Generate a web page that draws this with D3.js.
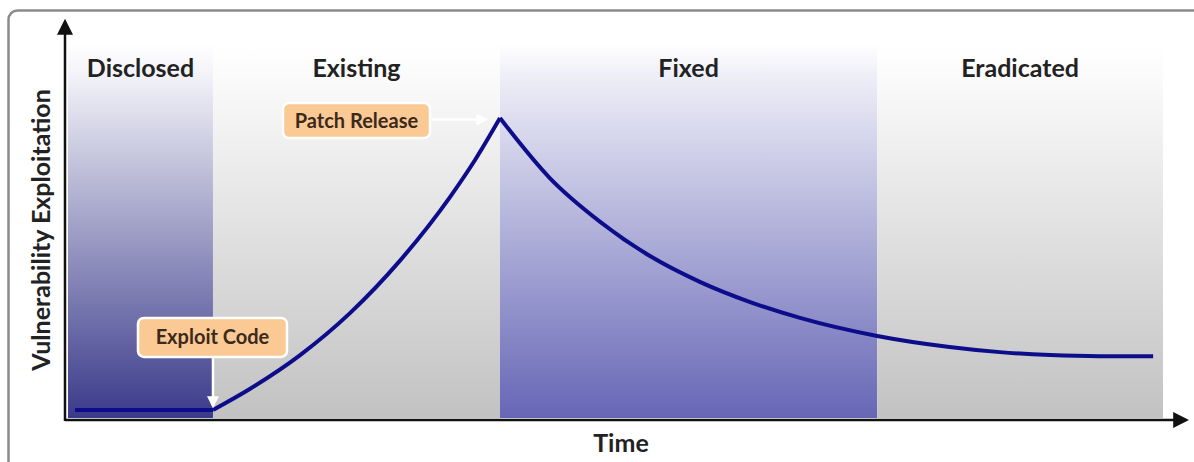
<!DOCTYPE html>
<html lang="en">
<head>
  <title>Vulnerability Lifecycle</title>
  <script src="https://cdn.jsdelivr.net/npm/d3@7"></script>
  <style>
    body { margin: 0; background: #fff; }
    text { font-family: Lato, "Open Sans", sans-serif; font-weight: bold; }
  </style>
</head>
<body>
  <script>
    // phases of the lifecycle (time units 0..100)
    let phases = ["Disclosed", "Existing", "Fixed", "Eradicated"];
    let phaseStart = [0, 13.24, 39.45, 73.9];
    let phaseEnd = [13.24, 39.45, 73.9, 100];
    let phaseTop = ["#f3f3f9", "#fbfbfb", "#efeff8", "#fbfbfb"];
    let phaseBottom = ["#3a3a8a", "#c2c2c2", "#6666b6", "#c2c2c2"];

    // exploitation curve
    let flatT = [0.64, 13.24];
    let flatV = [2.2, 2.2];
    let riseT = [13.24, 16.6, 21.2, 25.75, 30.3, 34.9, 37.17, 39.45];
    let riseV = [2.2, 7.9, 17.1, 28.5, 42.7, 60.1, 70.1, 81.5];
    let fallT = [39.45, 44.0, 48.6, 53.15, 57.7, 62.3, 66.85, 73.9, 80.5, 85.1, 89.7, 94.2, 99.1];
    let fallV = [81.5, 65.2, 53.3, 44.0, 37.0, 31.5, 27.2, 22.3, 19.3, 17.9, 17.1, 16.8, 16.8];

    // callouts
    let callouts = ["Patch Release", "Exploit Code"];
    let calloutT = [39.45, 13.24];
    let calloutV = [81.5, 2.2];

    let svgWidth = 1194, svgHeight = 462;
    let svg = d3.select("body").append("svg")
      .attr("width", svgWidth)
      .attr("height", svgHeight);

    let xScale = d3.scaleLinear().domain([0, 100]).range([68, 1163]);
    let yScale = d3.scaleLinear().domain([0, 100]).range([418, 50]);
    let panelTop = 44;

    // outer frame
    svg.append("rect")
      .attr("x", 8.5).attr("y", 10.5)
      .attr("width", 1200).attr("height", 480)
      .attr("rx", 9)
      .attr("fill", "#fff")
      .attr("stroke", "#8a8a8a")
      .attr("stroke-width", 2.5);

    let defs = svg.append("defs");
    phases.forEach((p, i) => {
      let g = defs.append("linearGradient")
        .attr("id", "grad" + i)
        .attr("x1", 0).attr("y1", 0).attr("x2", 0).attr("y2", 1);
      g.append("stop").attr("offset", "0%").attr("stop-color", "#ffffff");
      g.append("stop").attr("offset", "8%").attr("stop-color", phaseTop[i]);
      g.append("stop").attr("offset", "100%").attr("stop-color", phaseBottom[i]);
    });
    // arrowhead markers
    let marker = (id, color, size) => {
      defs.append("marker")
        .attr("id", id)
        .attr("viewBox", "0 0 10 10")
        .attr("refX", 8).attr("refY", 5)
        .attr("markerWidth", size).attr("markerHeight", size)
        .attr("markerUnits", "userSpaceOnUse")
        .attr("orient", "auto")
        .append("path").attr("d", "M0,0 L10,5 L0,10 Z").attr("fill", color);
    };
    marker("axisArrow", "#111", 16);
    marker("whiteArrow", "#fff", 12);

    // phase panels
    svg.selectAll(".panel").data(phases).join("rect")
      .attr("class", "panel")
      .attr("x", (d, i) => xScale(phaseStart[i]))
      .attr("y", panelTop)
      .attr("width", (d, i) => xScale(phaseEnd[i]) - xScale(phaseStart[i]))
      .attr("height", yScale(0) - panelTop)
      .attr("fill", (d, i) => `url(#grad${i})`);

    svg.selectAll(".phaseLabel").data(phases).join("text")
      .attr("class", "phaseLabel")
      .attr("x", (d, i) => (xScale(phaseStart[i]) + xScale(phaseEnd[i])) / 2)
      .attr("y", 77)
      .attr("text-anchor", "middle")
      .attr("font-size", 25)
      .attr("fill", "#222")
      .text(d => d);

    // exploitation line
    let line = d3.line().x(d => xScale(d[0])).y(d => yScale(d[1]));
    let segs = [
      { pts: d3.zip(flatT, flatV), curve: d3.curveLinear },
      { pts: d3.zip(riseT, riseV), curve: d3.curveMonotoneX },
      { pts: d3.zip(fallT, fallV), curve: d3.curveMonotoneX }
    ];
    svg.selectAll(".curve").data(segs).join("path")
      .attr("class", "curve")
      .attr("d", d => line.curve(d.curve)(d.pts))
      .attr("fill", "none")
      .attr("stroke", "#0d0d8c")
      .attr("stroke-width", 4)
      .attr("stroke-linejoin", "miter");

    // axes
    let xAxisG = svg.append("g").attr("transform", `translate(0, ${yScale(0) + 2})`);
    xAxisG.append("line")
      .attr("x1", 65).attr("x2", 1186)
      .attr("stroke", "#111").attr("stroke-width", 2.5)
      .attr("marker-end", "url(#axisArrow)");
    let yAxisG = svg.append("g").attr("transform", `translate(65, 0)`);
    yAxisG.append("line")
      .attr("y1", yScale(0) + 3).attr("y2", 22)
      .attr("stroke", "#111").attr("stroke-width", 2.5)
      .attr("marker-end", "url(#axisArrow)");

    svg.append("text")
      .attr("x", 621).attr("y", 452)
      .attr("text-anchor", "middle")
      .attr("font-size", 25).attr("fill", "#222")
      .text("Time");
    svg.append("g")
      .attr("transform", `translate(50, ${230})`)
      .append("text").text("Vulnerability Exploitation")
      .attr("text-anchor", "middle")
      .attr("font-size", 25).attr("fill", "#222")
      .attr("transform", "rotate(-90)");

    // callouts
    let boxW = [147, 149], boxH = [35, 39];
    let boxX = [xScale(calloutT[0]) - 217, xScale(calloutT[1]) - 75];
    let boxY = [yScale(calloutV[0]) - 15, yScale(calloutV[1]) - 92];
    callouts.forEach((c, i) => {
      let g = svg.append("g");
      if (i === 0) {
        g.append("line")
          .attr("x1", boxX[i] + boxW[i] + 2).attr("x2", xScale(calloutT[i]) - 14)
          .attr("y1", boxY[i] + boxH[i] / 2 - 1).attr("y2", boxY[i] + boxH[i] / 2 - 1)
          .attr("stroke", "#fff").attr("stroke-width", 2.5)
          .attr("marker-end", "url(#whiteArrow)");
      } else {
        g.append("line")
          .attr("x1", xScale(calloutT[i])).attr("x2", xScale(calloutT[i]))
          .attr("y1", boxY[i] + boxH[i] + 1).attr("y2", yScale(calloutV[i]) - 4)
          .attr("stroke", "#fff").attr("stroke-width", 2.5)
          .attr("marker-end", "url(#whiteArrow)");
      }
      g.append("rect")
        .attr("x", boxX[i]).attr("y", boxY[i])
        .attr("width", boxW[i]).attr("height", boxH[i])
        .attr("rx", 6)
        .attr("fill", "#fbc993")
        .attr("stroke", "#fff").attr("stroke-width", 2.5);
      g.append("text")
        .attr("x", boxX[i] + boxW[i] / 2).attr("y", boxY[i] + boxH[i] / 2 + 7)
        .attr("text-anchor", "middle")
        .attr("font-size", 20).attr("fill", "#3b2a1c")
        .text(c);
    });
  </script>
</body>
</html>
